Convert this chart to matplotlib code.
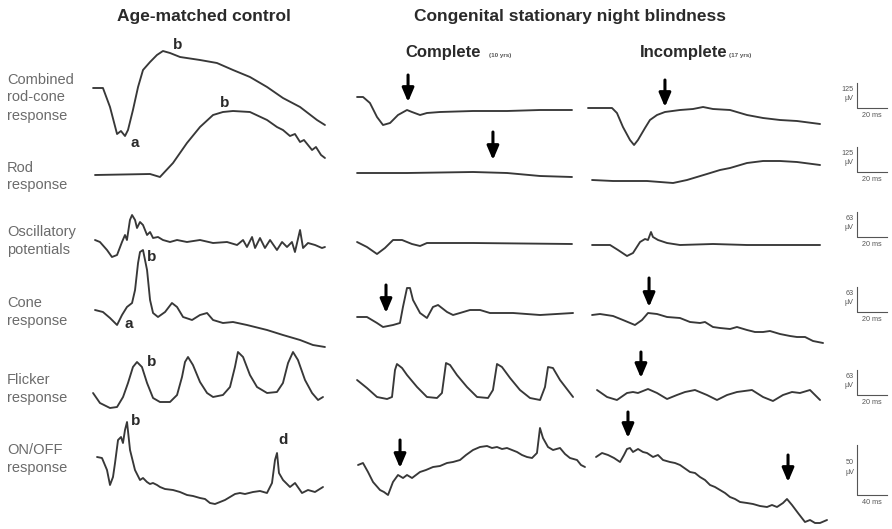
import matplotlib
matplotlib.use("Agg")
import matplotlib.pyplot as plt

plt.rcParams["font.family"] = ["Liberation Sans", "DejaVu Sans"]

# ---------------------------------------------------------------------------
# ERG recordings: time in ms, amplitude in µV
# ---------------------------------------------------------------------------
row_names = [
    ["Combined", "rod-cone", "response"],
    ["Rod", "response"],
    ["Oscillatory", "potentials"],
    ["Cone", "response"],
    ["Flicker", "response"],
    ["ON/OFF", "response"],
]
column_titles = ["Complete", "Incomplete"]
column_ages = ["(10 yrs)", "(17 yrs)"]
scale_amp_uv = [125, 125, 63, 63, 63, 50]
scale_dur_ms = [20, 20, 20, 20, 20, 40]

# age-matched control
ctrl_combined_t = [0.7, 7.3, 12, 16.7, 19.3, 22, 24, 27.3, 30.7, 34, 38.7, 43.3, 47.3, 52,
                   58.7, 72, 83.3, 94, 105.3, 116.7, 127.3, 138.7, 150, 155.3]
ctrl_combined_uv = [60, 60, -35, -170, -155, -180, -150, -50, 65, 150, 190, 225, 245, 235,
                    215, 200, 185, 150, 115, 65, 10, -35, -100, -125]
ctrl_rod_t = [2, 38.7, 45.3, 54, 63.3, 72, 80.7, 87.3, 94, 105.3, 116.7, 123.3, 127.3, 132,
              135.3, 138.7, 141.3, 146.7, 149.3, 152.7, 155.3]
ctrl_rod_uv = [-25, -20, -35, 35, 135, 215, 275, 290, 295, 290, 250, 215, 200, 170,
               180, 140, 150, 100, 115, 75, 60]
ctrl_op_t = [2, 5.3, 10, 13.3, 16.7, 20, 22, 23.3, 25.3, 26.7, 28.7, 30, 32, 34, 36.7, 38.7,
             40.7, 44, 47.3, 52, 56.7, 63.3, 72, 80.7, 90, 96.7, 100.7, 103.3, 106.7, 108.7,
             112, 115.3, 118.7, 123.3, 126.7, 130, 133.3, 135.3, 138.7, 140.7, 144, 148.7,
             153.3, 155.3]
ctrl_op_uv = [12.5, 7.5, -12.5, -30, -25, 7.5, 25, 12.5, 62.5, 75, 62.5, 42.5, 57.5, 50, 25,
              32.5, 17.5, 20, 12.5, 7.5, 12.5, 7.5, 12.5, 5, 7.5, 0, 12.5, -5, 20, -7.5,
              17.5, -7.5, 12.5, -12.5, 7.5, -5, 7.5, -17.5, 37.5, -7.5, 5, 0, -7.5, -5]
ctrl_cone_t = [2, 7.3, 12, 16.7, 20, 23.3, 26.7, 28.7, 30.7, 32, 34, 36.7, 38.7, 40.7, 44,
               48.7, 53.3, 56.7, 60.7, 66.7, 72, 76.7, 80.7, 87.3, 94, 103.3, 116.7, 127.3,
               138.7, 147.3, 155.3]
ctrl_cone_uv = [12.5, 7.5, -7.5, -25, 0, 20, 30, 62.5, 130, 157.5, 162.5, 112.5, 37.5, 5, -5,
                7.5, 30, 20, -5, -12.5, 0, 5, -12.5, -20, -17.5, -25, -37.5, -50,
                -62.5, -75, -80]
ctrl_flicker_t = [0.7, 5.3, 12, 16.7, 20.7, 24, 27.3, 30, 33.3, 36.7, 40.7, 45.3, 52, 56.7,
                  60, 62, 64, 67.3, 72, 76.7, 80.7, 87.3, 92, 95.3, 97.3, 100.7, 105.3, 110,
                  116.7, 123.3, 127.3, 130.7, 134, 137.3, 142, 146.7, 150.7, 154]
ctrl_flicker_uv = [-7.5, -32.5, -45, -42.5, -17.5, 17.5, 57.5, 70, 57.5, 17.5, -20, -30, -30,
                   -12.5, 32.5, 70, 82.5, 62.5, 20, -7.5, -17.5, -12.5, 7.5, 57.5, 95, 82.5,
                   37.5, 7.5, -7.5, -5, 17.5, 67.5, 95, 75, 25, -7.5, -25, -17.5]
ctrl_onoff_t = [6.7, 13.3, 20, 24, 28, 30.7, 34.7, 38.7, 41.3, 44, 46.7, 50.7, 57.3, 64, 68,
                73.3, 77.3, 81.3, 86.7, 90.7, 97.3, 108, 117.3, 126.7, 134.7, 144, 150.7,
                157.3, 164, 170.7, 177.3, 184, 190.7, 197.3, 204, 214.7, 224, 233.3, 240,
                244, 246.7, 249.3, 254.7, 264, 270.7, 280, 288, 297.3, 308]
ctrl_onoff_uv = [13, 12, 0, -15, -7, 7, 30, 33, 27, 40, 48, 20, 0, -10, -8, -12, -14, -13,
                 -15, -17, -19, -20, -22, -25, -26, -28, -29, -33, -34, -32, -30, -27, -24,
                 -23, -24, -22, -21, -23, -13, 10, 17, -3, -10, -17, -13, -23, -20, -22, -17]

# complete CSNB
cmp_combined_t = [0.7, 4.7, 9.3, 14, 18, 22.7, 28, 34, 37.3, 42.7, 47.3, 56, 78, 100.7,
                  122.7, 144]
cmp_combined_uv = [15, 15, -15, -85, -125, -115, -75, -50, -60, -75, -65, -60, -55, -55,
                   -50, -50]
cmp_rod_t = [0.7, 34, 78, 100.7, 122.7, 144]
cmp_rod_uv = [-15, -15, -10, -15, -30, -35]
cmp_op_t = [0.7, 7.3, 14, 19.3, 24.7, 30.7, 37.3, 42.7, 47.3, 56, 78, 144]
cmp_op_uv = [7.5, -5, -22.5, -7.5, 12.5, 12.5, 2.5, -2.5, 5, 5, 5, 2.5]
cmp_cone_t = [0.7, 7.3, 14, 18, 24.7, 29.3, 31.3, 34, 36, 38, 42.7, 47.3, 51.3, 54.7, 60.7,
              64.7, 69.3, 76, 82.7, 89.3, 104.7, 122.7, 144.7]
cmp_cone_uv = [-5, -5, -20, -30, -25, -20, 20, 67.5, 67.5, 37.5, 5, -7.5, 20, 25, 7.5, 0, 5,
               12.5, 12.5, 5, 5, 0, 5]
cmp_flicker_t = [0.7, 7.3, 14, 20.7, 24, 26, 27.3, 30.7, 34, 40.7, 47.3, 54, 57.3, 60, 62.7,
                 67.3, 74, 80.7, 88, 91.3, 94, 97.3, 102.7, 109.3, 116, 122.7, 126, 128,
                 131.3, 136, 144.7]
cmp_flicker_uv = [25, 5, -17.5, -22.5, -17.5, 50, 65, 55, 37.5, 7.5, -17.5, -20, -7.5, 67.5,
                  62.5, 37.5, 7.5, -17.5, -20, 0, 65, 57.5, 30, 0, -20, -25, 7.5, 57.5, 55,
                  25, -17.5]
cmp_onoff_t = [2.7, 9.3, 16, 22.7, 32, 37.3, 42.7, 49.3, 56, 62.7, 68, 74.7, 85.3, 93.3,
               102.7, 112, 121.3, 129.3, 138.7, 146.7, 156, 165.3, 174.7, 181.3, 188, 194.7,
               201.3, 208, 214.7, 221.3, 228, 234.7, 241.3, 245.3, 249.3, 256, 262.7, 272,
               278.7, 285.3, 294.7, 300, 305.3]
cmp_onoff_uv = [5, 7, -2, -12, -20, -22, -25, -12, -5, -8, -5, -8, -2, 0, 3, 4, 7, 8, 10, 15,
                20, 23, 24, 22, 23, 21, 22, 20, 18, 15, 13, 12, 17, 42, 32, 23, 20, 22, 16,
                12, 10, 5, 3]

# incomplete CSNB
inc_combined_t = [0, 16, 19.3, 23.3, 28, 30.7, 33.3, 38, 41.3, 46, 51.3, 61.3, 70, 76.7,
                  83.3, 94.7, 106, 116.7, 128, 139.3, 154.7]
inc_combined_uv = [-40, -40, -65, -135, -200, -225, -200, -140, -100, -75, -60, -50, -45,
                   -35, -45, -50, -75, -90, -100, -105, -120]
inc_rod_t = [2.7, 16.7, 39.3, 56.7, 66, 79.3, 88, 94.7, 106, 116.7, 128, 139.3, 154.7]
inc_rod_uv = [-50, -55, -55, -65, -50, -20, 0, 10, 35, 45, 45, 40, 25]
inc_op_t = [2.7, 14.7, 20, 26, 30, 34.7, 38, 40, 42, 43.3, 46.7, 52.7, 61.3, 83.3, 106, 128,
            154.7]
inc_op_uv = [0, 0, -12.5, -27.5, -20, 7.5, 15, 12.5, 32.5, 20, 12.5, 5, 0, 2.5, 0, 0, 0]
inc_cone_t = [2.7, 8, 16.7, 23.3, 31.3, 36, 40, 46, 52.7, 61.3, 68, 74.7, 78, 83.3, 88, 94.7,
              99.3, 106, 111.3, 116.7, 121.3, 128, 134.7, 139.3, 144.7, 150, 156.7]
inc_cone_uv = [0, 2.5, -2.5, -12.5, -25, -12.5, 5, 2.5, -5, -7.5, -17.5, -20, -17.5, -30,
               -32.5, -35, -30, -37.5, -42.5, -42.5, -40, -47.5, -52.5, -55, -55, -65, -70]
inc_flicker_t = [6, 12.7, 19.3, 26, 30, 33.3, 40, 46, 52.7, 59.3, 64.7, 71.3, 79.3, 86, 92.7,
                 99.3, 109.3, 116.7, 123.3, 130, 136, 141.3, 148, 154.7]
inc_flicker_uv = [0, -17.5, -25, -7.5, -5, -7.5, 2.5, -7.5, -22.5, -12.5, -5, 0, -12.5, -25,
                  -12.5, -5, 0, -17.5, -27.5, -12.5, -5, -7.5, 0, -25]
inc_onoff_t = [10.7, 18.7, 26.7, 34.7, 42.7, 48, 52, 56, 60, 66.7, 73.3, 78.7, 86.7, 93.3,
               100, 109.3, 116, 122.7, 136, 142.7, 149.3, 156, 162.7, 169.3, 176, 182.7,
               189.3, 196, 202.7, 212, 220, 229.3, 238.7, 245.3, 252, 260, 265.3, 272, 280,
               289.3, 296, 302.7, 309.3, 318.7]
inc_onoff_uv = [13, 17, 15, 12, 8, 15, 21, 22, 18, 21, 18, 17, 13, 15, 10, 8, 7, 5, -2, -3,
                -7, -10, -15, -17, -20, -23, -27, -29, -32, -33, -34, -36, -37, -35, -37,
                -33, -29, -35, -43, -52, -50, -53, -53, -50]

traces = [
    [(ctrl_combined_t, ctrl_combined_uv), (cmp_combined_t, cmp_combined_uv), (inc_combined_t, inc_combined_uv)],
    [(ctrl_rod_t, ctrl_rod_uv), (cmp_rod_t, cmp_rod_uv), (inc_rod_t, inc_rod_uv)],
    [(ctrl_op_t, ctrl_op_uv), (cmp_op_t, cmp_op_uv), (inc_op_t, inc_op_uv)],
    [(ctrl_cone_t, ctrl_cone_uv), (cmp_cone_t, cmp_cone_uv), (inc_cone_t, inc_cone_uv)],
    [(ctrl_flicker_t, ctrl_flicker_uv), (cmp_flicker_t, cmp_flicker_uv), (inc_flicker_t, inc_flicker_uv)],
    [(ctrl_onoff_t, ctrl_onoff_uv), (cmp_onoff_t, cmp_onoff_uv), (inc_onoff_t, inc_onoff_uv)],
]

# arrows marking the abnormal components: (column, row, time ms, tip µV, tail µV)
arrow_col = [1, 1, 1, 1, 2, 2, 2, 2, 2]
arrow_row = [0, 1, 3, 5, 0, 3, 4, 5, 5]
arrow_t = [34.7, 91.3, 20, 58.7, 51.3, 40.7, 35.3, 53.3, 266.7]
arrow_tip_uv = [-10, 50, 5, 2, -35, 20, 30, 32, -12]
arrow_tail_uv = [125, 190, 75, 30, 100, 92.5, 95, 58, 15]

# wave labels on the control traces
wave_text = ["b", "a", "b", "b", "a", "b", "b", "d"]
wave_row = [0, 0, 1, 3, 3, 4, 5, 5]
wave_t = [57.3, 28.7, 88.7, 40, 24.7, 40, 58.7, 254.7]
wave_uv = [275, -215, 335, 145, -22.5, 70, 49, 30]

# ---------------------------------------------------------------------------
# layout (pixels of an 892 x 529 canvas)
# ---------------------------------------------------------------------------
W, H = 892, 529
col_left = [92, 356, 588]
panel_w = 240
row_center = [100, 170, 245, 315, 390, 470]
half_h = 60
row_half_uv = [300, 300, 150, 150, 150, 60]
row_span_ms = [160, 160, 160, 160, 160, 320]
scale_corner_t = [179.3, 179.3, 179.3, 179.3, 179.3, 358.7]
scale_corner_uv = [-40, -10, 20, 7.5, -12.5, -25]

trace_color = "#383838"
fig = plt.figure(figsize=(W / 100, H / 100), dpi=100)
fig.patch.set_facecolor("white")


def fx(px):
    return px / W


def fy(py):
    return 1 - py / H


axes = []
for r in range(6):
    row_axes = []
    for c in range(3):
        ax = fig.add_axes([fx(col_left[c]), fy(row_center[r] + half_h),
                           panel_w / W, 2 * half_h / H])
        ax.set_xlim(0, row_span_ms[r])
        ax.set_ylim(-row_half_uv[r], row_half_uv[r])
        ax.axis("off")
        ax.patch.set_alpha(0)
        t, v = traces[r][c]
        ax.plot(t, v, color=trace_color, lw=1.35, clip_on=False,
                solid_joinstyle="round", solid_capstyle="round")
        row_axes.append(ax)
    axes.append(row_axes)

# arrows
for c, r, t, tip, tail in zip(arrow_col, arrow_row, arrow_t, arrow_tip_uv, arrow_tail_uv):
    axes[r][c].annotate("", xy=(t, tip), xytext=(t, tail),
                        arrowprops=dict(arrowstyle="-|>,head_length=0.75,head_width=0.32",
                                        lw=2.2, color="black", mutation_scale=11,
                                        shrinkA=0, shrinkB=0),
                        annotation_clip=False)

# wave letters
for s, r, t, v in zip(wave_text, wave_row, wave_t, wave_uv):
    axes[r][0].text(t, v, s, fontsize=11, weight="bold", color="#2a2a2a",
                    ha="center", va="center", clip_on=False)

# scale bars
for r in range(6):
    ax = axes[r][2]
    t0, v0 = scale_corner_t[r], scale_corner_uv[r]
    amp, dur = scale_amp_uv[r], scale_dur_ms[r]
    ax.plot([t0, t0, t0 + dur], [v0 + amp, v0, v0], color="#555555", lw=0.8,
            clip_on=False)
    ax.annotate(f"{amp}\nµV", xy=(t0, v0 + amp * 0.55), xytext=(-3, 0),
                textcoords="offset pixels", ha="right", va="center",
                fontsize=5.2, color="#555555", linespacing=1.5, annotation_clip=False)
    ax.annotate(f"{dur} ms", xy=(t0 + dur / 2, v0), xytext=(0, -4),
                textcoords="offset pixels", ha="center", va="top",
                fontsize=5.2, color="#555555", annotation_clip=False)

# row labels
label_rows_px = [[80, 97, 116], [168, 185], [232, 250], [303, 321], [380, 398], [450, 468]]
for lines, ys in zip(row_names, label_rows_px):
    for s, y in zip(lines, ys):
        fig.text(fx(7), fy(y), s, fontsize=10.5, color="#6b6b6b", ha="left", va="center")

# headings
fig.text(fx(204), fy(17), "Age-matched control", fontsize=12.5, weight="bold",
         color="#2a2a2a", ha="center", va="center")
fig.text(fx(570), fy(17), "Congenital stationary night blindness", fontsize=12.5,
         weight="bold", color="#2a2a2a", ha="center", va="center")
title_left = [405, 640]
age_left = [489, 729]
for s, a, x0, x1 in zip(column_titles, column_ages, title_left, age_left):
    fig.text(fx(x0), fy(53), s, fontsize=12, weight="bold", color="#2a2a2a",
             ha="left", va="center")
    fig.text(fx(x1), fy(55), a, fontsize=4.5, weight="bold", color="#555555",
             ha="left", va="center")

fig.savefig("out.png", dpi=100, facecolor="white")
